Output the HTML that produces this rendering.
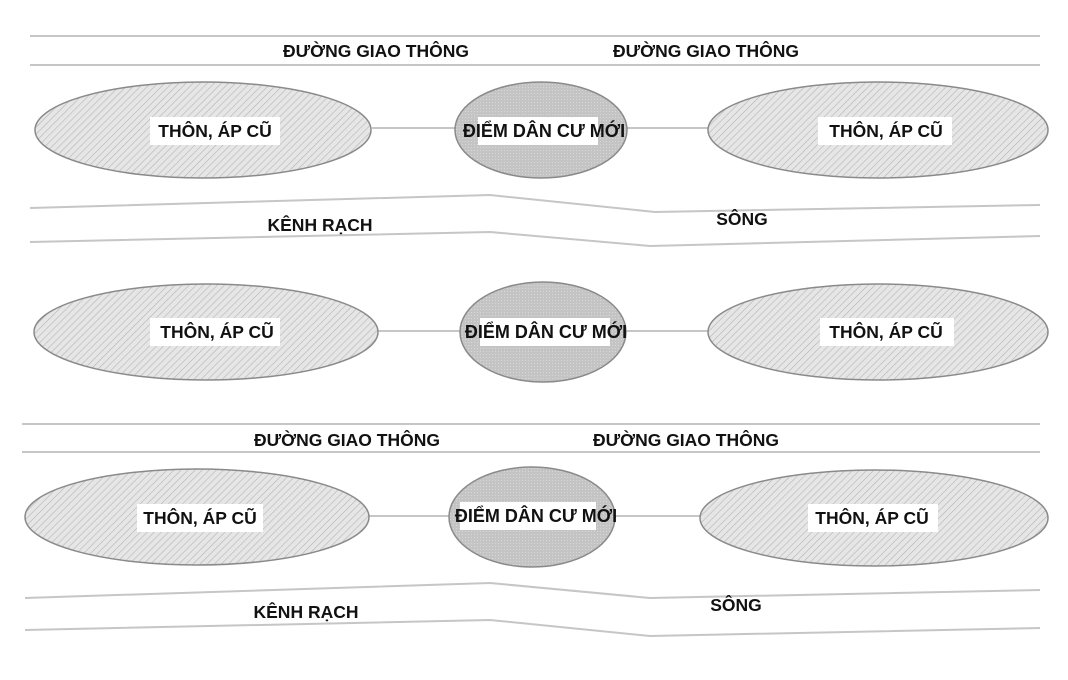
<!DOCTYPE html>
<html><head><meta charset="utf-8"><style>
html,body{margin:0;padding:0;background:#fff}
svg{display:block}
text{font-family:"Liberation Sans",sans-serif;font-weight:bold;font-size:17.5px;fill:#111;text-anchor:middle;dominant-baseline:central}
text.c{font-size:18px}
</style></head><body>
<svg width="1068" height="680" viewBox="0 0 1068 680" xmlns="http://www.w3.org/2000/svg">
<defs>
<pattern id="h" width="5" height="5" patternUnits="userSpaceOnUse" patternTransform="rotate(45)">
<rect width="5" height="5" fill="#e6e6e6"/><line x1="0" y1="0" x2="0" y2="5" stroke="#b8b8b8" stroke-width="1.3"/></pattern>
<pattern id="c" width="3" height="3" patternUnits="userSpaceOnUse">
<rect width="3" height="3" fill="#c4c4c4"/><rect width="1" height="1" fill="#d8d8d8"/></pattern>
</defs>
<g stroke="#c6c6c6" stroke-width="2" fill="none">
<line x1="30" y1="36" x2="1040" y2="36"/><line x1="30" y1="65" x2="1040" y2="65"/>
<polyline points="30,208 490,195 655,212 1040,205"/><polyline points="30,242 490,232 650,246 1040,236"/>
<line x1="22" y1="424" x2="1040" y2="424"/><line x1="22" y1="452" x2="1040" y2="452"/>
<polyline points="25,598 490,583 650,598 1040,590"/><polyline points="25,630 490,620 650,636 1040,628"/>
<line x1="372" y1="128" x2="455" y2="128"/><line x1="627" y1="128" x2="708" y2="128"/>
<line x1="378" y1="331" x2="460" y2="331"/><line x1="626" y1="331" x2="708" y2="331"/>
<line x1="368" y1="516" x2="449" y2="516"/><line x1="615" y1="516" x2="700" y2="516"/>
</g>
<g stroke="#8a8a8a" stroke-width="1.5">
<ellipse cx="203" cy="130" rx="168" ry="48" fill="url(#h)"/>
<ellipse cx="541" cy="130" rx="86" ry="48" fill="url(#c)"/>
<ellipse cx="878" cy="130" rx="170" ry="48" fill="url(#h)"/>
<ellipse cx="206" cy="332" rx="172" ry="48" fill="url(#h)"/>
<ellipse cx="543" cy="332" rx="83" ry="50" fill="url(#c)"/>
<ellipse cx="878" cy="332" rx="170" ry="48" fill="url(#h)"/>
<ellipse cx="197" cy="517" rx="172" ry="48" fill="url(#h)"/>
<ellipse cx="532" cy="517" rx="83" ry="50" fill="url(#c)"/>
<ellipse cx="874" cy="518" rx="174" ry="48" fill="url(#h)"/>
</g>
<g fill="#fff">
<rect x="150" y="117" width="130" height="28"/><rect x="818" y="117" width="134" height="28"/>
<rect x="478" y="117" width="120" height="28"/>
<rect x="150" y="318" width="130" height="28"/><rect x="820" y="318" width="134" height="28"/>
<rect x="480" y="318" width="130" height="28"/>
<rect x="137" y="504" width="126" height="28"/><rect x="808" y="504" width="130" height="28"/>
<rect x="460" y="502" width="136" height="28"/>
</g>
<text x="376" y="51">ĐƯỜNG GIAO THÔNG</text><text x="706" y="51">ĐƯỜNG GIAO THÔNG</text>
<text x="215" y="131">THÔN, ÁP CŨ</text><text class="c" x="544" y="131">ĐIỂM DÂN CƯ MỚI</text><text x="886" y="131">THÔN, ÁP CŨ</text>
<text x="320" y="225">KÊNH RẠCH</text><text x="742" y="219">SÔNG</text>
<text x="217" y="332">THÔN, ÁP CŨ</text><text class="c" x="546" y="332">ĐIỂM DÂN CƯ MỚI</text><text x="886" y="332">THÔN, ÁP CŨ</text>
<text x="347" y="440">ĐƯỜNG GIAO THÔNG</text><text x="686" y="440">ĐƯỜNG GIAO THÔNG</text>
<text x="200" y="518">THÔN, ÁP CŨ</text><text class="c" x="536" y="516">ĐIỂM DÂN CƯ MỚI</text><text x="872" y="518">THÔN, ÁP CŨ</text>
<text x="306" y="612">KÊNH RẠCH</text><text x="736" y="605">SÔNG</text>
</svg>
</body></html>
